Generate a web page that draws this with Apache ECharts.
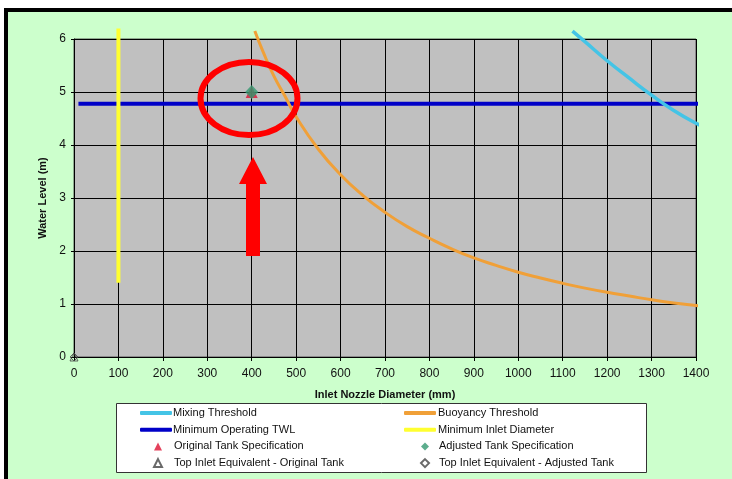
<!DOCTYPE html>
<html><head><meta charset="utf-8">
<script src="https://cdn.jsdelivr.net/npm/echarts@6/dist/echarts.min.js"></script>
<style>html,body{margin:0;padding:0;background:#fff}#c{width:732px;height:479px}</style>
</head><body><div id="c"></div>
<script>
// ---- data ----
const mixingX = [1122, 1150, 1200, 1250, 1300, 1350, 1400, 1420];
const mixingY = [6.15, 5.95, 5.59, 5.26, 4.94, 4.65, 4.41, 4.34];

const buoyX = [407, 425, 450, 475, 500, 550, 600, 650, 700, 750, 800, 850, 900, 950, 1000, 1050, 1100, 1150, 1200, 1250, 1300, 1350, 1400, 1420];
const buoyY = [6.15, 5.77, 5.30, 4.92, 4.53, 3.92, 3.44, 3.05, 2.73, 2.46, 2.24, 2.04, 1.87, 1.73, 1.60, 1.49, 1.39, 1.30, 1.22, 1.15, 1.08, 1.02, 0.97, 0.95];

const twlX = [10, 1420];
const twlY = [4.78, 4.78];

const minInletX = [100, 100];
const minInletY = [1.4, 6.2];

const originalSpec = [[400, 5.0]];
const adjustedSpec = [[400, 5.0]];
const topOriginal = [[0, 0]];
const topAdjusted = [[0, 0]];

const xMin = 0, xMax = 1400, xStep = 100;
const yMin = 0, yMax = 6, yStep = 1;

const names = {
  mix: 'Mixing Threshold', buoy: 'Buoyancy Threshold',
  twl: 'Minimum Operating TWL', inlet: 'Minimum Inlet Diameter',
  orig: 'Original Tank Specification', adj: 'Adjusted Tank Specification',
  topO: 'Top Inlet Equivalent - Original Tank', topA: 'Top Inlet Equivalent - Adjusted Tank'
};

const zip = (xs, ys) => xs.map((x, i) => [x, ys[i]]);
const FONT = "'Liberation Sans', Arial, sans-serif";

const chart = echarts.init(document.getElementById('c'), null, {renderer: 'canvas'});
const legendText = {fontSize: 11, color: '#111', fontFamily: FONT, lineHeight: 12};
const rowStep = 16.7, legTop = 402;

function lineLegend(items, left, pad) {
  return {data: items.map(n => ({name: n, icon: 'roundRect'})), orient: 'vertical', left: left, top: legTop,
    itemWidth: 32, itemHeight: 4, itemGap: rowStep - 12,
    textStyle: Object.assign({}, legendText, {padding: [0, 0, 0, pad]}), selectedMode: false, z: 10};
}
function markLegend(items, icons, left, pad) {
  return {data: items.map((n, i) => ({name: n, icon: icons[i]})), orient: 'vertical', left: left, top: legTop + 2 * rowStep,
    itemWidth: 8, itemHeight: 8, itemGap: rowStep - 12,
    textStyle: Object.assign({}, legendText, {padding: [0, 0, 0, pad]}), selectedMode: false, z: 10};
}

chart.setOption({
  backgroundColor: '#ffffff',
  animation: false,
  grid: {left: 74, top: 39, right: 36, bottom: 122, show: true, backgroundColor: '#c0c0c0', borderColor: '#555', borderWidth: 1, z: 0},
  xAxis: {
    type: 'value', min: xMin, max: xMax, interval: xStep,
    name: 'Inlet Nozzle Diameter (mm)', nameLocation: 'middle', nameGap: 32,
    nameTextStyle: {fontSize: 11, fontWeight: 'bold', color: '#111', fontFamily: FONT},
    axisLine: {show: true, lineStyle: {color: '#000', width: 1}},
    axisTick: {show: true, length: 4, lineStyle: {color: '#000'}},
    axisLabel: {fontSize: 12, color: '#111', margin: 11, fontFamily: FONT, formatter: v => String(v)},
    splitLine: {show: true, lineStyle: {color: '#000', width: 1}}
  },
  yAxis: {
    type: 'value', min: yMin, max: yMax, interval: yStep,
    name: 'Water Level (m)', nameLocation: 'middle', nameGap: 21,
    nameTextStyle: {fontSize: 11, fontWeight: 'bold', color: '#111', fontFamily: FONT},
    axisLine: {show: true, lineStyle: {color: '#000', width: 1}},
    axisTick: {show: true, length: 3, lineStyle: {color: '#000'}},
    axisLabel: {fontSize: 12, color: '#111', margin: 8, fontFamily: FONT},
    splitLine: {show: true, lineStyle: {color: '#000', width: 1}}
  },
  legend: [
    lineLegend([names.mix, names.twl], 135, -4),
    markLegend([names.orig, names.topO], ['triangle', 'triangle'], 148, 7),
    lineLegend([names.buoy, names.inlet], 399, -3),
    markLegend([names.adj, names.topA], ['diamond', 'diamond'], 415, 5)
  ],
  graphic: [
    {type: 'rect', z: -100, shape: {x: 6, y: 10, width: 740, height: 480}, style: {fill: '#ccffcc', stroke: '#000', lineWidth: 4}},
    {type: 'rect', z: 1, shape: {x: 116.5, y: 403.5, width: 530, height: 69}, style: {fill: '#ffffff', stroke: '#333', lineWidth: 1}},
    {type: 'ellipse', z: 100, shape: {cx: 249, cy: 98.5, rx: 48.5, ry: 36.5}, style: {fill: 'none', stroke: '#ff0000', lineWidth: 6}},
    {type: 'polygon', z: 100, shape: {points: [[253, 157], [267, 184], [260, 184], [260, 256], [246, 256], [246, 184], [239, 184]]}, style: {fill: '#ff0000'}}
  ],
  series: [
    {name: names.twl, type: 'line', data: zip(twlX, twlY), symbol: 'none', clip: false,
     lineStyle: {color: '#0000c8', width: 4}, itemStyle: {color: '#0000c8'}, z: 3},
    {name: names.mix, type: 'line', data: zip(mixingX, mixingY), symbol: 'none', smooth: true, clip: false,
     lineStyle: {color: '#44c4e6', width: 3.5}, itemStyle: {color: '#44c4e6'}, z: 4},
    {name: names.buoy, type: 'line', data: zip(buoyX, buoyY), symbol: 'none', smooth: true, clip: false,
     lineStyle: {color: '#f0a038', width: 3}, itemStyle: {color: '#f0a038'}, z: 4},
    {name: names.inlet, type: 'line', data: zip(minInletX, minInletY), symbol: 'none', clip: false,
     lineStyle: {color: '#ffff30', width: 4}, itemStyle: {color: '#ffff30'}, z: 5},
    {name: names.orig, type: 'scatter', data: originalSpec, symbol: 'triangle', symbolSize: 12, clip: false,
     itemStyle: {color: '#dd1133'}, z: 6},
    {name: names.adj, type: 'scatter', data: adjustedSpec, symbol: 'diamond', symbolSize: [13, 14], clip: false,
     itemStyle: {color: '#339970'}, z: 7},
    {name: names.topO, type: 'scatter', data: topOriginal, symbol: 'triangle', symbolSize: 8, clip: false,
     itemStyle: {color: 'rgba(255,255,255,0)', borderColor: '#444', borderWidth: 1}, z: 8},
    {name: names.topA, type: 'scatter', data: topAdjusted, symbol: 'diamond', symbolSize: 8, clip: false,
     itemStyle: {color: 'rgba(255,255,255,0)', borderColor: '#444', borderWidth: 1}, z: 8}
  ]
});
</script>
</body></html>
